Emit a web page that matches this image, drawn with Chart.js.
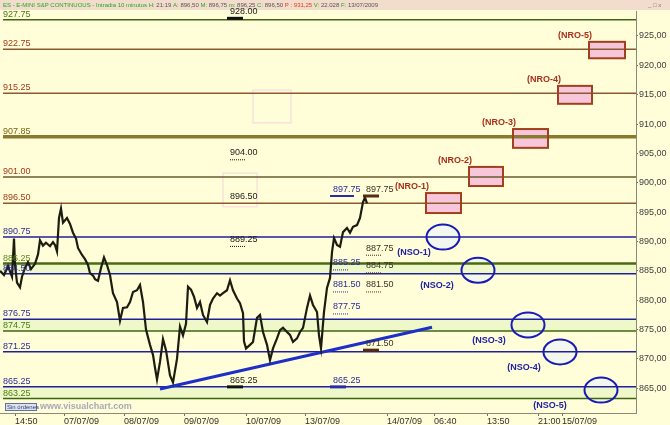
<!DOCTYPE html>
<html>
<head>
<meta charset="utf-8">
<script src="https://cdn.jsdelivr.net/npm/chart.js@4.4.1/dist/chart.umd.min.js"></script>
<style>
  html, body { margin: 0; padding: 0; background: #fffed8; }
  #wrap { width: 670px; height: 425px; position: relative; }
</style>
</head>
<body>
<div id="wrap"><canvas id="chart"></canvas></div>
<script>
// niveles horizontales (valor, tipo)
const levelValues = [927.75, 922.75, 915.25, 907.85, 901.00, 896.50, 890.75, 886.25, 884.50, 876.75, 874.75, 871.25, 865.25, 863.25];
const levelKinds = ['g', 'r', 'r', 'o', 'd', 'r', 'b', 'G', 'b', 'b', 'g', 'b', 'b', 'g'];

// bandas verdes claras
const bandTop = [886.25, 876.75, 865.25];
const bandBottom = [884.50, 874.75, 863.25];

// precio de cierre aproximado (ES 10 min)
const priceX = [0, 4, 8, 12, 14, 15, 17, 20, 22, 25, 28, 31, 35, 38, 40, 43, 46, 50, 53, 55, 57, 59, 61, 63, 67, 70, 73, 76, 78, 82,
  85, 88, 90, 93, 95, 98, 101, 104, 107, 110, 113, 117, 120, 123, 127, 130, 133, 137, 140, 143, 146, 150, 153, 155, 157, 160,
  163, 166, 170, 173, 177, 180, 183, 186, 188, 191, 194, 197, 200, 203, 207, 210, 213, 217, 220, 223, 227, 230, 233, 237, 240,
  243, 244, 246, 250, 253, 257, 260, 263, 267, 270, 273, 277, 280, 283, 287, 290, 293, 297, 300, 303, 307, 310, 313, 317, 319,
  321, 324, 327, 330, 332, 334, 337, 340, 343, 347, 350, 353, 357, 360, 363, 365, 367];
const priceY = [885.0, 884.3, 885.8, 884.0, 890.5, 886.0, 883.0, 882.2, 884.0, 885.5, 886.5, 885.3, 886.2, 887.8, 890.2, 889.3, 889.8, 889.2, 889.9, 889.4,
  888.3, 894.0, 895.6, 893.2, 894.0, 893.0, 891.5, 890.5, 888.9, 887.7, 887.0, 886.0, 884.6, 884.2, 883.6, 883.3, 885.5, 887.3,
  886.0, 884.3, 881.2, 879.7, 876.5, 878.7, 878.8, 879.7, 881.4, 881.7, 882.6, 879.7, 875.0, 872.4, 870.7, 868.5, 866.5, 869.5,
  873.4, 871.5, 867.2, 866.0, 870.0, 875.5, 874.0, 876.0, 882.3, 881.8, 880.6, 878.7, 879.7, 877.5, 876.3, 879.2, 880.3, 881.2,
  880.8, 881.2, 881.7, 883.4, 881.7, 880.3, 879.5, 877.8, 873.0, 871.8, 872.4, 872.9, 877.0, 877.5, 874.6, 872.4, 869.8, 871.8,
  873.5, 874.9, 875.3, 874.6, 874.1, 872.9, 873.5, 874.6, 875.3, 878.7, 880.8, 879.2, 878.0, 874.0, 871.8, 878.0, 882.1, 883.8,
  888.2, 890.6, 889.4, 889.1, 891.6, 892.3, 891.5, 892.5, 892.8, 894.0, 896.7, 897.5, 896.5];

// directriz alcista
const trendX = [160, 432];
const trendY = [864.9, 875.4];

// objetivos NRO (cajas) y NSO (elipses)
const nroNames = ['(NRO-1)', '(NRO-2)', '(NRO-3)', '(NRO-4)', '(NRO-5)'];
const nroLeft = [426, 469, 513, 558, 589];
const nroRight = [461, 503, 548, 592, 625];
const nroLow = [894.85, 899.45, 905.95, 913.45, 921.2];
const nroHigh = [898.25, 902.7, 909.15, 916.5, 924.0];

const nsoNames = ['(NSO-1)', '(NSO-2)', '(NSO-3)', '(NSO-4)', '(NSO-5)'];
const nsoX = [443, 478, 528, 560, 601];
const nsoY = [890.75, 885.1, 875.8, 871.2, 864.7];
const nsoLabelX = [414, 437, 489, 524, 550];

// restos de objetivos antiguos (rosa tenue)
const ghostLeft = [253, 223];
const ghostRight = [291, 257];
const ghostLow = [910.2, 895.9];
const ghostHigh = [915.8, 901.65];

// cotas dentro del grafico
const noteText = ['928.00', '904.00', '896.50', '889.25', '865.25',
  '897.75', '885.25', '881.50', '877.75', '865.25',
  '897.75', '887.75', '884.75', '881.50', '871.50'];
const noteCol = [0, 0, 0, 0, 0, 1, 1, 1, 1, 1, 2, 2, 2, 2, 2];
const noteMark = ['bar', 'dots', 'none', 'dots', 'bar', 'line', 'dots', 'dots', 'dots', 'bar', 'bar', 'dots', 'dots', 'dots', 'bar'];

// eje x
const xTickPos = [15, 64, 124, 184, 246, 305, 387, 434, 487, 538, 562];
const xTickText = ['14:50', '07/07/09', '08/07/09', '09/07/09', '10/07/09', '13/07/09', '14/07/09', '06:40', '13:50', '21:00', '15/07/09'];
const yTickValues = [865, 870, 875, 880, 885, 890, 895, 900, 905, 910, 915, 920, 925];

const headerParts = [
  ['ES - E-MINI S&P CONTINUOUS - Intradia 10 minutos ', 'g'],
  ['H: ', 'g'], ['21:19 ', 'k'], ['A: ', 'g'], ['896,50 ', 'k'], ['M: ', 'g'], ['896,75 ', 'k'],
  ['m: ', 'g'], ['896,25 ', 'k'], ['C: ', 'g'], ['896,50 ', 'k'], ['P : 931,25 ', 'r'],
  ['V: ', 'g'], ['22.028 ', 'k'], ['F: ', 'g'], ['13/07/2009', 'k']
];

const levelStyle = {
  g: { line: '#3f6414', text: '#4a7a14', width: 1.5 },
  G: { line: '#4a6a14', text: '#5a8a1c', width: 2.5 },
  r: { line: '#8c5a30', text: '#a33a1c', width: 1.5 },
  d: { line: '#6a5a2c', text: '#a33a1c', width: 1.5 },
  o: { line: '#8a7a30', text: '#7a6418', width: 3.5 },
  b: { line: '#20209c', text: '#2a2a9a', width: 1.5 }
};
const noteColX = [230, 333, 366];
const noteColColor = ['#1a1a1a', '#2a2aa0', '#3a3020'];
const markColor = ['#111111', '#2a2ab0', '#5a2a10'];

const datasets = [];
datasets.push({
  data: priceX.map((x, i) => ({ x: x, y: priceY[i] })),
  borderColor: '#1c1c10', borderWidth: 2.2, pointRadius: 0, order: 0
});
datasets.push({
  data: trendX.map((x, i) => ({ x: x, y: trendY[i] })),
  borderColor: '#1e2ec8', borderWidth: 3, pointRadius: 0, order: 1
});
levelValues.forEach((v, i) => {
  const st = levelStyle[levelKinds[i]];
  datasets.push({
    data: [{ x: 3, y: v }, { x: 636, y: v }],
    borderColor: st.line, borderWidth: st.width, pointRadius: 0, order: 2
  });
});
bandTop.forEach((v, i) => {
  datasets.push({
    data: [{ x: 0, y: v }, { x: 636, y: v }],
    borderWidth: 0, pointRadius: 0, order: 3,
    fill: { value: bandBottom[i] }, backgroundColor: '#eef8c8'
  });
});

function textParts(ctx, x, y) {
  ctx.font = '6px Arial';
  ctx.textBaseline = 'middle';
  ctx.textAlign = 'left';
  for (const p of headerParts) {
    ctx.fillStyle = p[1] == 'g' ? '#22aa22' : (p[1] == 'r' ? '#e03a1a' : '#555555');
    ctx.fillText(p[0], x, y);
    x += ctx.measureText(p[0]).width;
  }
}

const decor = {
  id: 'decor',
  beforeDraw(chart) {
    const ctx = chart.ctx;
    ctx.save();
    ctx.fillStyle = '#fffed8';
    ctx.fillRect(0, 0, chart.width, chart.height);
    ctx.fillStyle = '#f2dccc';
    ctx.fillRect(0, 0, chart.width, 10);
    textParts(ctx, 3, 5);
    ctx.fillStyle = '#777777';
    ctx.font = '6px Arial';
    ctx.fillText('_ □ x', 648, 5);
    ctx.restore();
  },
  beforeDatasetsDraw(chart) {
    const ctx = chart.ctx, xs = chart.scales.x, ys = chart.scales.y;
    ctx.save();
    for (let i = 0; i < ghostLeft.length; i++) {
      const x0 = xs.getPixelForValue(ghostLeft[i]), x1 = xs.getPixelForValue(ghostRight[i]);
      const y0 = ys.getPixelForValue(ghostHigh[i]), y1 = ys.getPixelForValue(ghostLow[i]);
      ctx.strokeStyle = '#f8d2e0';
      ctx.lineWidth = 1;
      ctx.strokeRect(x0, y0, x1 - x0, y1 - y0);
    }
    for (let i = 0; i < nroNames.length; i++) {
      const x0 = xs.getPixelForValue(nroLeft[i]), x1 = xs.getPixelForValue(nroRight[i]);
      const y0 = ys.getPixelForValue(nroHigh[i]), y1 = ys.getPixelForValue(nroLow[i]);
      ctx.fillStyle = '#f8c6da';
      ctx.fillRect(x0, y0, x1 - x0, y1 - y0);
    }
    for (let i = 0; i < nsoNames.length; i++) {
      ctx.beginPath();
      ctx.ellipse(xs.getPixelForValue(nsoX[i]), ys.getPixelForValue(nsoY[i]), 16.5, 12.5, 0, 0, Math.PI * 2);
      ctx.fillStyle = '#f2f8ee';
      ctx.fill();
    }
    ctx.restore();
  },
  afterDatasetsDraw(chart) {
    const ctx = chart.ctx, xs = chart.scales.x, ys = chart.scales.y;
    ctx.save();
    // etiquetas de niveles
    ctx.font = '9px Arial';
    ctx.textAlign = 'left';
    ctx.textBaseline = 'bottom';
    levelValues.forEach((v, i) => {
      ctx.fillStyle = levelStyle[levelKinds[i]].text;
      ctx.fillText(v.toFixed(2), xs.getPixelForValue(3), ys.getPixelForValue(v) - 1);
    });
    // cajas NRO
    for (let i = 0; i < nroNames.length; i++) {
      const x0 = xs.getPixelForValue(nroLeft[i]), x1 = xs.getPixelForValue(nroRight[i]);
      const y0 = ys.getPixelForValue(nroHigh[i]), y1 = ys.getPixelForValue(nroLow[i]);
      ctx.strokeStyle = '#a0401c';
      ctx.lineWidth = 2;
      ctx.strokeRect(x0, y0, x1 - x0, y1 - y0);
      ctx.font = 'bold 9px Arial';
      ctx.fillStyle = '#a8301c';
      ctx.textAlign = 'right';
      ctx.textBaseline = 'bottom';
      ctx.fillText(nroNames[i], x0 + 3, y0 - 2);
    }
    // elipses NSO
    for (let i = 0; i < nsoNames.length; i++) {
      const cx = xs.getPixelForValue(nsoX[i]), cy = ys.getPixelForValue(nsoY[i]);
      ctx.beginPath();
      ctx.ellipse(cx, cy, 16.5, 12.5, 0, 0, Math.PI * 2);
      ctx.strokeStyle = '#1a1ab4';
      ctx.lineWidth = 2;
      ctx.stroke();
      ctx.font = 'bold 9px Arial';
      ctx.fillStyle = '#2020a8';
      ctx.textAlign = 'center';
      ctx.textBaseline = 'top';
      ctx.fillText(nsoNames[i], xs.getPixelForValue(nsoLabelX[i]), cy + 11);
    }
    // cotas
    ctx.font = '9px Arial';
    ctx.textAlign = 'left';
    ctx.textBaseline = 'bottom';
    noteText.forEach((t, i) => {
      const c = noteCol[i];
      const x = xs.getPixelForValue(noteColX[c]);
      const y = ys.getPixelForValue(parseFloat(t));
      ctx.fillStyle = noteColColor[c];
      ctx.fillText(t, x, y - 2);
      const m = noteMark[i];
      ctx.fillStyle = markColor[c];
      if (m == 'bar') ctx.fillRect(x - 3, y - 1.5, 16, 3);
      if (m == 'line') ctx.fillRect(x - 3, y - 1, 24, 2);
      if (m == 'dots') for (let k = 0; k < 16; k += 2) ctx.fillRect(x + k, y, 1, 1);
    });
    // marca de agua
    ctx.font = 'bold 9px Arial';
    ctx.fillStyle = '#a8a8b8';
    ctx.textBaseline = 'middle';
    ctx.fillText('www.visualchart.com', 40, 407);
    ctx.fillStyle = '#dde4f0';
    ctx.fillRect(5, 403, 32, 8);
    ctx.strokeStyle = '#6070a0';
    ctx.lineWidth = 1;
    ctx.strokeRect(5.5, 403.5, 31, 7);
    ctx.font = '6px Arial';
    ctx.fillStyle = '#304070';
    ctx.fillText('Sin órdenes', 7, 407.5);
    ctx.restore();
  }
};

new Chart(document.getElementById('chart'), {
  type: 'line',
  data: { datasets: datasets },
  options: {
    responsive: true,
    maintainAspectRatio: false,
    devicePixelRatio: 1,
    animation: false,
    layout: { padding: { top: 11, left: 0, right: 0, bottom: 0 } },
    plugins: { legend: { display: false }, tooltip: { enabled: false } },
    scales: {
      x: {
        type: 'linear', min: 0, max: 636,
        afterFit: (s) => { s.height = 12; },
        afterBuildTicks: (s) => { s.ticks = xTickPos.map(v => ({ value: v })); },
        grid: { drawOnChartArea: false, drawTicks: true, tickLength: 3, color: '#707070' },
        border: { display: true, color: '#8a8a78' },
        ticks: {
          autoSkip: false, maxRotation: 0, align: 'start', padding: 0,
          color: '#303030', font: { family: 'Arial', size: 9 },
          callback: (v) => xTickText[xTickPos.indexOf(v)]
        }
      },
      y: {
        type: 'linear', position: 'right', min: 860.8, max: 929.25,
        afterFit: (s) => { s.width = 34; },
        afterBuildTicks: (s) => { s.ticks = yTickValues.map(v => ({ value: v })); },
        grid: { drawOnChartArea: false, drawTicks: true, tickLength: 2, color: '#707070' },
        border: { display: true, color: '#8a8a78' },
        ticks: {
          padding: 1, color: '#404040', font: { family: 'Arial', size: 9 },
          callback: (v) => v.toFixed(2).replace('.', ',')
        }
      }
    }
  },
  plugins: [decor]
});
</script>
</body>
</html>
